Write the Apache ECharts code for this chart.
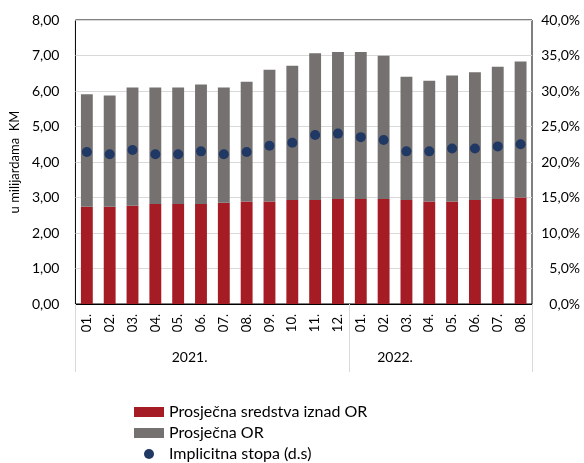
<!DOCTYPE html>
<html><head><meta charset="utf-8">
<script src="https://cdn.jsdelivr.net/npm/echarts@6/dist/echarts.min.js"></script>
<style>html,body{margin:0;padding:0;background:#fff}#c{width:584px;height:463px}</style>
</head><body><div id="c"></div>
<script>
const months = ['01.','02.','03.','04.','05.','06.','07.','08.','09.','10.','11.','12.','01.','02.','03.','04.','05.','06.','07.','08.'];
const years = ['2021.','2022.'];
const yearCounts = [12, 8];
const aboveOR = [2.74,2.74,2.77,2.82,2.82,2.82,2.85,2.89,2.89,2.93,2.93,2.96,2.96,2.96,2.93,2.89,2.89,2.93,2.96,3.00];
const avgOR   = [3.17,3.13,3.33,3.28,3.28,3.36,3.25,3.37,3.71,3.78,4.13,4.14,4.14,4.03,3.47,3.40,3.55,3.60,3.72,3.83];
const rate    = [21.4,21.1,21.7,21.1,21.1,21.5,21.1,21.4,22.3,22.7,23.8,24.0,23.5,23.1,21.5,21.5,21.9,21.9,22.2,22.5];
const leftTicks = {min:0,max:8,interval:1};
const rightTicks = {min:0,max:40,interval:5};

const FONT = '"Lato",sans-serif';
const bounds = [0]; yearCounts.forEach(c => bounds.push(bounds[bounds.length-1]+c));
const total = bounds[bounds.length-1];
const yearLabelPos = [5, 14];

const chart = echarts.init(document.getElementById('c'));
chart.setOption({
  animation:false,
  textStyle:{fontFamily:FONT},
  grid:{left:74,right:52,top:20,bottom:159,show:true,borderColor:'#000',borderWidth:1,backgroundColor:'transparent'},
  legend:{
    orient:'vertical',left:134,top:404,height:80,itemWidth:30,itemHeight:10,itemGap:5,padding:0,
    textStyle:{fontFamily:FONT,fontSize:16,color:'#000'},
    data:[{name:'Prosječna sredstva iznad OR',icon:'rect'},{name:'Prosječna OR',icon:'rect'},{name:'Implicitna stopa (d.s)',icon:'circle'}]
  },
  xAxis:[
    {type:'category',data:months,position:'bottom',
     axisLine:{show:true,lineStyle:{color:'#000'}},axisTick:{show:false},
     axisLabel:{rotate:90,fontSize:13,color:'#000',margin:10,interval:0,fontFamily:FONT}},
    {type:'value',min:0,max:total,position:'bottom',
     axisLine:{show:false},splitLine:{show:false},
     axisTick:{show:true,customValues:bounds,length:68,lineStyle:{color:'#d9d9d9'}},
     axisLabel:{customValues:yearLabelPos,margin:46,fontSize:14,color:'#000',fontFamily:FONT,
       formatter:v=>years[yearLabelPos.indexOf(v)] || ''}}
  ],
  yAxis:[
    {type:'value',min:leftTicks.min,max:leftTicks.max,interval:leftTicks.interval,
     name:'u milijardama  KM',nameLocation:'middle',nameGap:45,nameTextStyle:{fontSize:13,color:'#000',fontFamily:FONT},
     axisLine:{show:false},axisTick:{show:false},
     splitLine:{lineStyle:{color:'#d9d9d9'}},
     axisLabel:{fontSize:14,color:'#000',margin:16,fontFamily:FONT,formatter:v=>v.toFixed(2).replace('.',',')}},
    {type:'value',min:rightTicks.min,max:rightTicks.max,interval:rightTicks.interval,position:'right',
     axisLine:{show:false},axisTick:{show:false},splitLine:{show:false},
     axisLabel:{fontSize:14,color:'#000',margin:48,align:'right',fontFamily:FONT,formatter:v=>v.toFixed(1).replace('.',',')+'%'}}
  ],
  series:[
    {name:'Prosječna sredstva iznad OR',type:'bar',stack:'a',data:aboveOR,barWidth:'52%',itemStyle:{color:'#a51c24'}},
    {name:'Prosječna OR',type:'bar',stack:'a',data:avgOR,barWidth:'52%',itemStyle:{color:'#767171'}},
    {name:'Implicitna stopa (d.s)',type:'scatter',yAxisIndex:1,data:rate,symbolSize:10,itemStyle:{color:'#1f3864',opacity:1},z:5}
  ]
});
</script></body></html>
